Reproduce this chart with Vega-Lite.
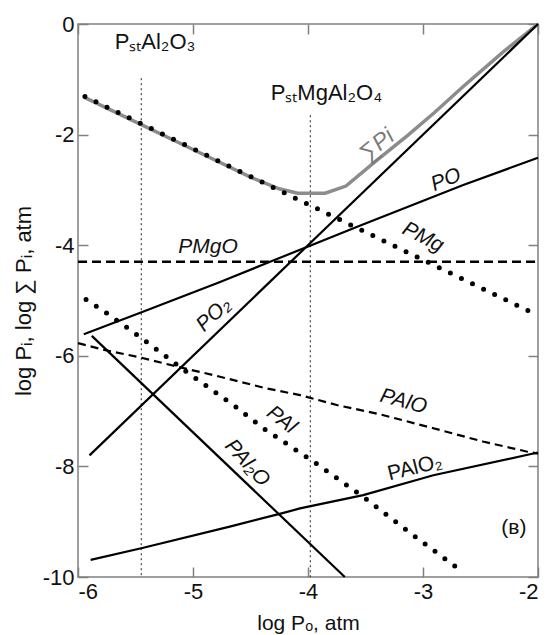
{
  "$schema": "https://vega.github.io/schema/vega-lite/v6.json",
  "width": 460,
  "height": 553,
  "autosize": "none",
  "padding": {"left": 78, "top": 24, "right": 8, "bottom": 58},
  "background": "white",
  "config": {
    "view": {"stroke": "#808080", "strokeWidth": 1.5},
    "font": "Liberation Sans",
    "axis": {
      "grid": false,
      "domain": false,
      "tickColor": "#808080",
      "tickWidth": 1.5,
      "tickSize": -10,
      "labelFont": "Liberation Sans",
      "labelFontSize": 22,
      "labelColor": "#111111",
      "titleFont": "Liberation Sans",
      "titleFontSize": 22,
      "titleFontWeight": "normal",
      "titleColor": "#111111"
    },
    "text": {"font": "Liberation Sans", "fontSize": 20, "color": "#111111"}
  },
  "datasets": {
    "curves": [
      {"s": "SumP", "x": -5.94, "y": -1.33},
      {"s": "SumP", "x": -5.45, "y": -1.82},
      {"s": "SumP", "x": -5.0, "y": -2.27},
      {"s": "SumP", "x": -4.5, "y": -2.77},
      {"s": "SumP", "x": -4.25, "y": -2.98},
      {"s": "SumP", "x": -4.09, "y": -3.06},
      {"s": "SumP", "x": -3.85, "y": -3.06},
      {"s": "SumP", "x": -3.67, "y": -2.93},
      {"s": "SumP", "x": -3.4, "y": -2.46},
      {"s": "SumP", "x": -3.13, "y": -2.01},
      {"s": "SumP", "x": -2.9, "y": -1.6},
      {"s": "SumP", "x": -2.65, "y": -1.13},
      {"s": "SumP", "x": -2.3, "y": -0.5},
      {"s": "SumP", "x": -2.0, "y": 0.0},
      {"s": "PMg", "x": -5.94, "y": -1.31},
      {"s": "PMg", "x": -2.03, "y": -5.24},
      {"s": "PO", "x": -5.95, "y": -5.61},
      {"s": "PO", "x": -5.43, "y": -5.2},
      {"s": "PO", "x": -4.77, "y": -4.67},
      {"s": "PO", "x": -4.33, "y": -4.3},
      {"s": "PO", "x": -3.55, "y": -3.65},
      {"s": "PO", "x": -2.65, "y": -2.91},
      {"s": "PO", "x": -2.0, "y": -2.42},
      {"s": "PO2", "x": -5.9, "y": -7.8},
      {"s": "PO2", "x": -2.0, "y": 0.0},
      {"s": "PMgO", "x": -6.0, "y": -4.3},
      {"s": "PMgO", "x": -2.0, "y": -4.3},
      {"s": "PAl", "x": -5.93, "y": -4.98},
      {"s": "PAl", "x": -5.75, "y": -5.23},
      {"s": "PAl", "x": -5.58, "y": -5.48},
      {"s": "PAl", "x": -5.41, "y": -5.74},
      {"s": "PAl", "x": -5.23, "y": -6.02},
      {"s": "PAl", "x": -5.07, "y": -6.27},
      {"s": "PAl", "x": -4.9, "y": -6.52},
      {"s": "PAl", "x": -4.63, "y": -6.92},
      {"s": "PAl", "x": -4.39, "y": -7.31},
      {"s": "PAl", "x": -3.94, "y": -7.93},
      {"s": "PAl", "x": -3.52, "y": -8.55},
      {"s": "PAl", "x": -3.1, "y": -9.22},
      {"s": "PAl", "x": -2.66, "y": -9.9},
      {"s": "PAlO", "x": -6.0, "y": -5.77},
      {"s": "PAlO", "x": -5.78, "y": -5.89},
      {"s": "PAlO", "x": -5.46, "y": -6.03},
      {"s": "PAlO", "x": -5.11, "y": -6.21},
      {"s": "PAlO", "x": -4.82, "y": -6.35},
      {"s": "PAlO", "x": -4.36, "y": -6.59},
      {"s": "PAlO", "x": -4.07, "y": -6.71},
      {"s": "PAlO", "x": -3.75, "y": -6.89},
      {"s": "PAlO", "x": -3.37, "y": -7.06},
      {"s": "PAlO", "x": -2.91, "y": -7.31},
      {"s": "PAlO", "x": -2.48, "y": -7.55},
      {"s": "PAlO", "x": -2.1, "y": -7.73},
      {"s": "PAlO", "x": -2.0, "y": -7.77},
      {"s": "PAlO2", "x": -5.89, "y": -9.69},
      {"s": "PAlO2", "x": -5.45, "y": -9.48},
      {"s": "PAlO2", "x": -4.68, "y": -9.09},
      {"s": "PAlO2", "x": -4.23, "y": -8.85},
      {"s": "PAlO2", "x": -4.07, "y": -8.76},
      {"s": "PAlO2", "x": -3.52, "y": -8.52},
      {"s": "PAlO2", "x": -2.91, "y": -8.16},
      {"s": "PAlO2", "x": -2.07, "y": -7.78},
      {"s": "PAlO2", "x": -2.0, "y": -7.75},
      {"s": "PAl2O", "x": -5.88, "y": -5.64},
      {"s": "PAl2O", "x": -3.68, "y": -10.0}
    ],
    "refs": [
      {"name": "PstAl2O3", "x": -5.45, "ytop": -0.98, "ybot": -10},
      {"name": "PstMgAl2O4", "x": -3.98, "ytop": -1.65, "ybot": -10}
    ]
  },
  "layer": [
    {
      "data": {"name": "refs"},
      "mark": {"type": "rule", "color": "#222222", "strokeWidth": 1, "strokeDash": [2, 3]},
      "encoding": {
        "x": {"field": "x", "type": "quantitative", "scale": {"domain": [-6, -2], "nice": false, "zero": false},
              "axis": {"orient": "top", "labels": false, "title": null, "values": [-6, -5, -4, -3, -2]}},
        "y": {"field": "ytop", "type": "quantitative", "scale": {"domain": [-10, 0], "nice": false, "zero": false},
              "axis": {"orient": "right", "labels": false, "title": null, "values": [0, -2, -4, -6, -8, -10]}},
        "y2": {"field": "ybot"}
      }
    },
    {
      "data": {"name": "curves"},
      "transform": [{"filter": "datum.s == 'SumP'"}],
      "mark": {"type": "line", "color": "#8c8c8c", "strokeWidth": 3.5},
      "encoding": {
        "x": {"field": "x", "type": "quantitative",
              "axis": {"orient": "bottom", "title": "log Pₒ, atm", "titleFontSize": 21, "values": [-6, -5, -4, -3, -2],
                       "labelExpr": "datum.value == 0 ? '0' : '-' + abs(datum.value)", "labelPadding": 14, "titlePadding": 10}},
        "y": {"field": "y", "type": "quantitative",
              "axis": {"orient": "left", "title": "log Pᵢ, log ∑ Pᵢ, atm", "values": [0, -2, -4, -6, -8, -10],
                       "labelExpr": "datum.value == 0 ? '0' : '-' + abs(datum.value)", "labelPadding": 14, "titlePadding": 7}}
      }
    },
    {
      "data": {"name": "curves"},
      "transform": [{"filter": "datum.s == 'PMg' || datum.s == 'PAl'"}],
      "mark": {"type": "line", "color": "#000000", "strokeWidth": 5, "strokeDash": [0, 12.3], "strokeCap": "round"},
      "encoding": {
        "x": {"field": "x", "type": "quantitative", "axis": null},
        "y": {"field": "y", "type": "quantitative", "axis": null},
        "detail": {"field": "s"}
      }
    },
    {
      "data": {"name": "curves"},
      "transform": [{"filter": "datum.s == 'PO' || datum.s == 'PO2' || datum.s == 'PAlO2' || datum.s == 'PAl2O'"}],
      "mark": {"type": "line", "color": "#000000", "strokeWidth": 2.2},
      "encoding": {
        "x": {"field": "x", "type": "quantitative", "axis": null},
        "y": {"field": "y", "type": "quantitative", "axis": null},
        "detail": {"field": "s"}
      }
    },
    {
      "data": {"name": "curves"},
      "transform": [{"filter": "datum.s == 'PMgO'"}],
      "mark": {"type": "line", "color": "#000000", "strokeWidth": 2.5, "strokeDash": [9, 5]},
      "encoding": {
        "x": {"field": "x", "type": "quantitative", "axis": null},
        "y": {"field": "y", "type": "quantitative", "axis": null}
      }
    },
    {
      "data": {"name": "curves"},
      "transform": [{"filter": "datum.s == 'PAlO'"}],
      "mark": {"type": "line", "color": "#000000", "strokeWidth": 2.2, "strokeDash": [8, 5]},
      "encoding": {
        "x": {"field": "x", "type": "quantitative", "axis": null},
        "y": {"field": "y", "type": "quantitative", "axis": null}
      }
    },
    {
      "data": {"values": [{"t": "PₛₜAl₂O₃", "x": -5.33, "y": -0.33}, {"t": "PₛₜMgAl₂O₄", "x": -3.84, "y": -1.25}]},
      "mark": {"type": "text", "fontSize": 22},
      "encoding": {"x": {"field": "x", "type": "quantitative", "axis": null}, "y": {"field": "y", "type": "quantitative", "axis": null}, "text": {"field": "t"}}
    },
    {
      "data": {"values": [{"t": "(в)", "x": -2.21, "y": -9.12}]},
      "mark": {"type": "text", "fontSize": 21},
      "encoding": {"x": {"field": "x", "type": "quantitative", "axis": null}, "y": {"field": "y", "type": "quantitative", "axis": null}, "text": {"field": "t"}}
    },
    {
      "data": {"values": [{"t": "∑Pi", "x": -3.4, "y": -2.19}]},
      "mark": {"type": "text", "fontSize": 23, "fontStyle": "italic", "color": "#7a7a7a", "angle": -39},
      "encoding": {"x": {"field": "x", "type": "quantitative", "axis": null}, "y": {"field": "y", "type": "quantitative", "axis": null}, "text": {"field": "t"}}
    },
    {
      "data": {"values": [{"t": "PO", "x": -2.8, "y": -2.82}]},
      "mark": {"type": "text", "fontSize": 21, "fontStyle": "italic", "angle": -22},
      "encoding": {"x": {"field": "x", "type": "quantitative", "axis": null}, "y": {"field": "y", "type": "quantitative", "axis": null}, "text": {"field": "t"}}
    },
    {
      "data": {"values": [{"t": "PMg", "x": -3.0, "y": -3.86}]},
      "mark": {"type": "text", "fontSize": 21, "fontStyle": "italic", "angle": 27},
      "encoding": {"x": {"field": "x", "type": "quantitative", "axis": null}, "y": {"field": "y", "type": "quantitative", "axis": null}, "text": {"field": "t"}}
    },
    {
      "data": {"values": [{"t": "PMgO", "x": -4.87, "y": -4.03}]},
      "mark": {"type": "text", "fontSize": 21, "fontStyle": "italic"},
      "encoding": {"x": {"field": "x", "type": "quantitative", "axis": null}, "y": {"field": "y", "type": "quantitative", "axis": null}, "text": {"field": "t"}}
    },
    {
      "data": {"values": [{"t": "PO₂", "x": -4.82, "y": -5.26}]},
      "mark": {"type": "text", "fontSize": 21, "fontStyle": "italic", "angle": -44},
      "encoding": {"x": {"field": "x", "type": "quantitative", "axis": null}, "y": {"field": "y", "type": "quantitative", "axis": null}, "text": {"field": "t"}}
    },
    {
      "data": {"values": [{"t": "PAlO", "x": -3.17, "y": -6.83}]},
      "mark": {"type": "text", "fontSize": 21, "fontStyle": "italic", "angle": 15},
      "encoding": {"x": {"field": "x", "type": "quantitative", "axis": null}, "y": {"field": "y", "type": "quantitative", "axis": null}, "text": {"field": "t"}}
    },
    {
      "data": {"values": [{"t": "PAl", "x": -4.23, "y": -7.16}]},
      "mark": {"type": "text", "fontSize": 21, "fontStyle": "italic", "angle": 38},
      "encoding": {"x": {"field": "x", "type": "quantitative", "axis": null}, "y": {"field": "y", "type": "quantitative", "axis": null}, "text": {"field": "t"}}
    },
    {
      "data": {"values": [{"t": "PAl₂O", "x": -4.53, "y": -7.94}]},
      "mark": {"type": "text", "fontSize": 21, "fontStyle": "italic", "angle": 48},
      "encoding": {"x": {"field": "x", "type": "quantitative", "axis": null}, "y": {"field": "y", "type": "quantitative", "axis": null}, "text": {"field": "t"}}
    },
    {
      "data": {"values": [{"t": "PAlO₂", "x": -3.07, "y": -8.03}]},
      "mark": {"type": "text", "fontSize": 21, "angle": -14},
      "encoding": {"x": {"field": "x", "type": "quantitative", "axis": null}, "y": {"field": "y", "type": "quantitative", "axis": null}, "text": {"field": "t"}}
    }
  ],
  "resolve": {"axis": {"x": "independent", "y": "independent"}}
}
